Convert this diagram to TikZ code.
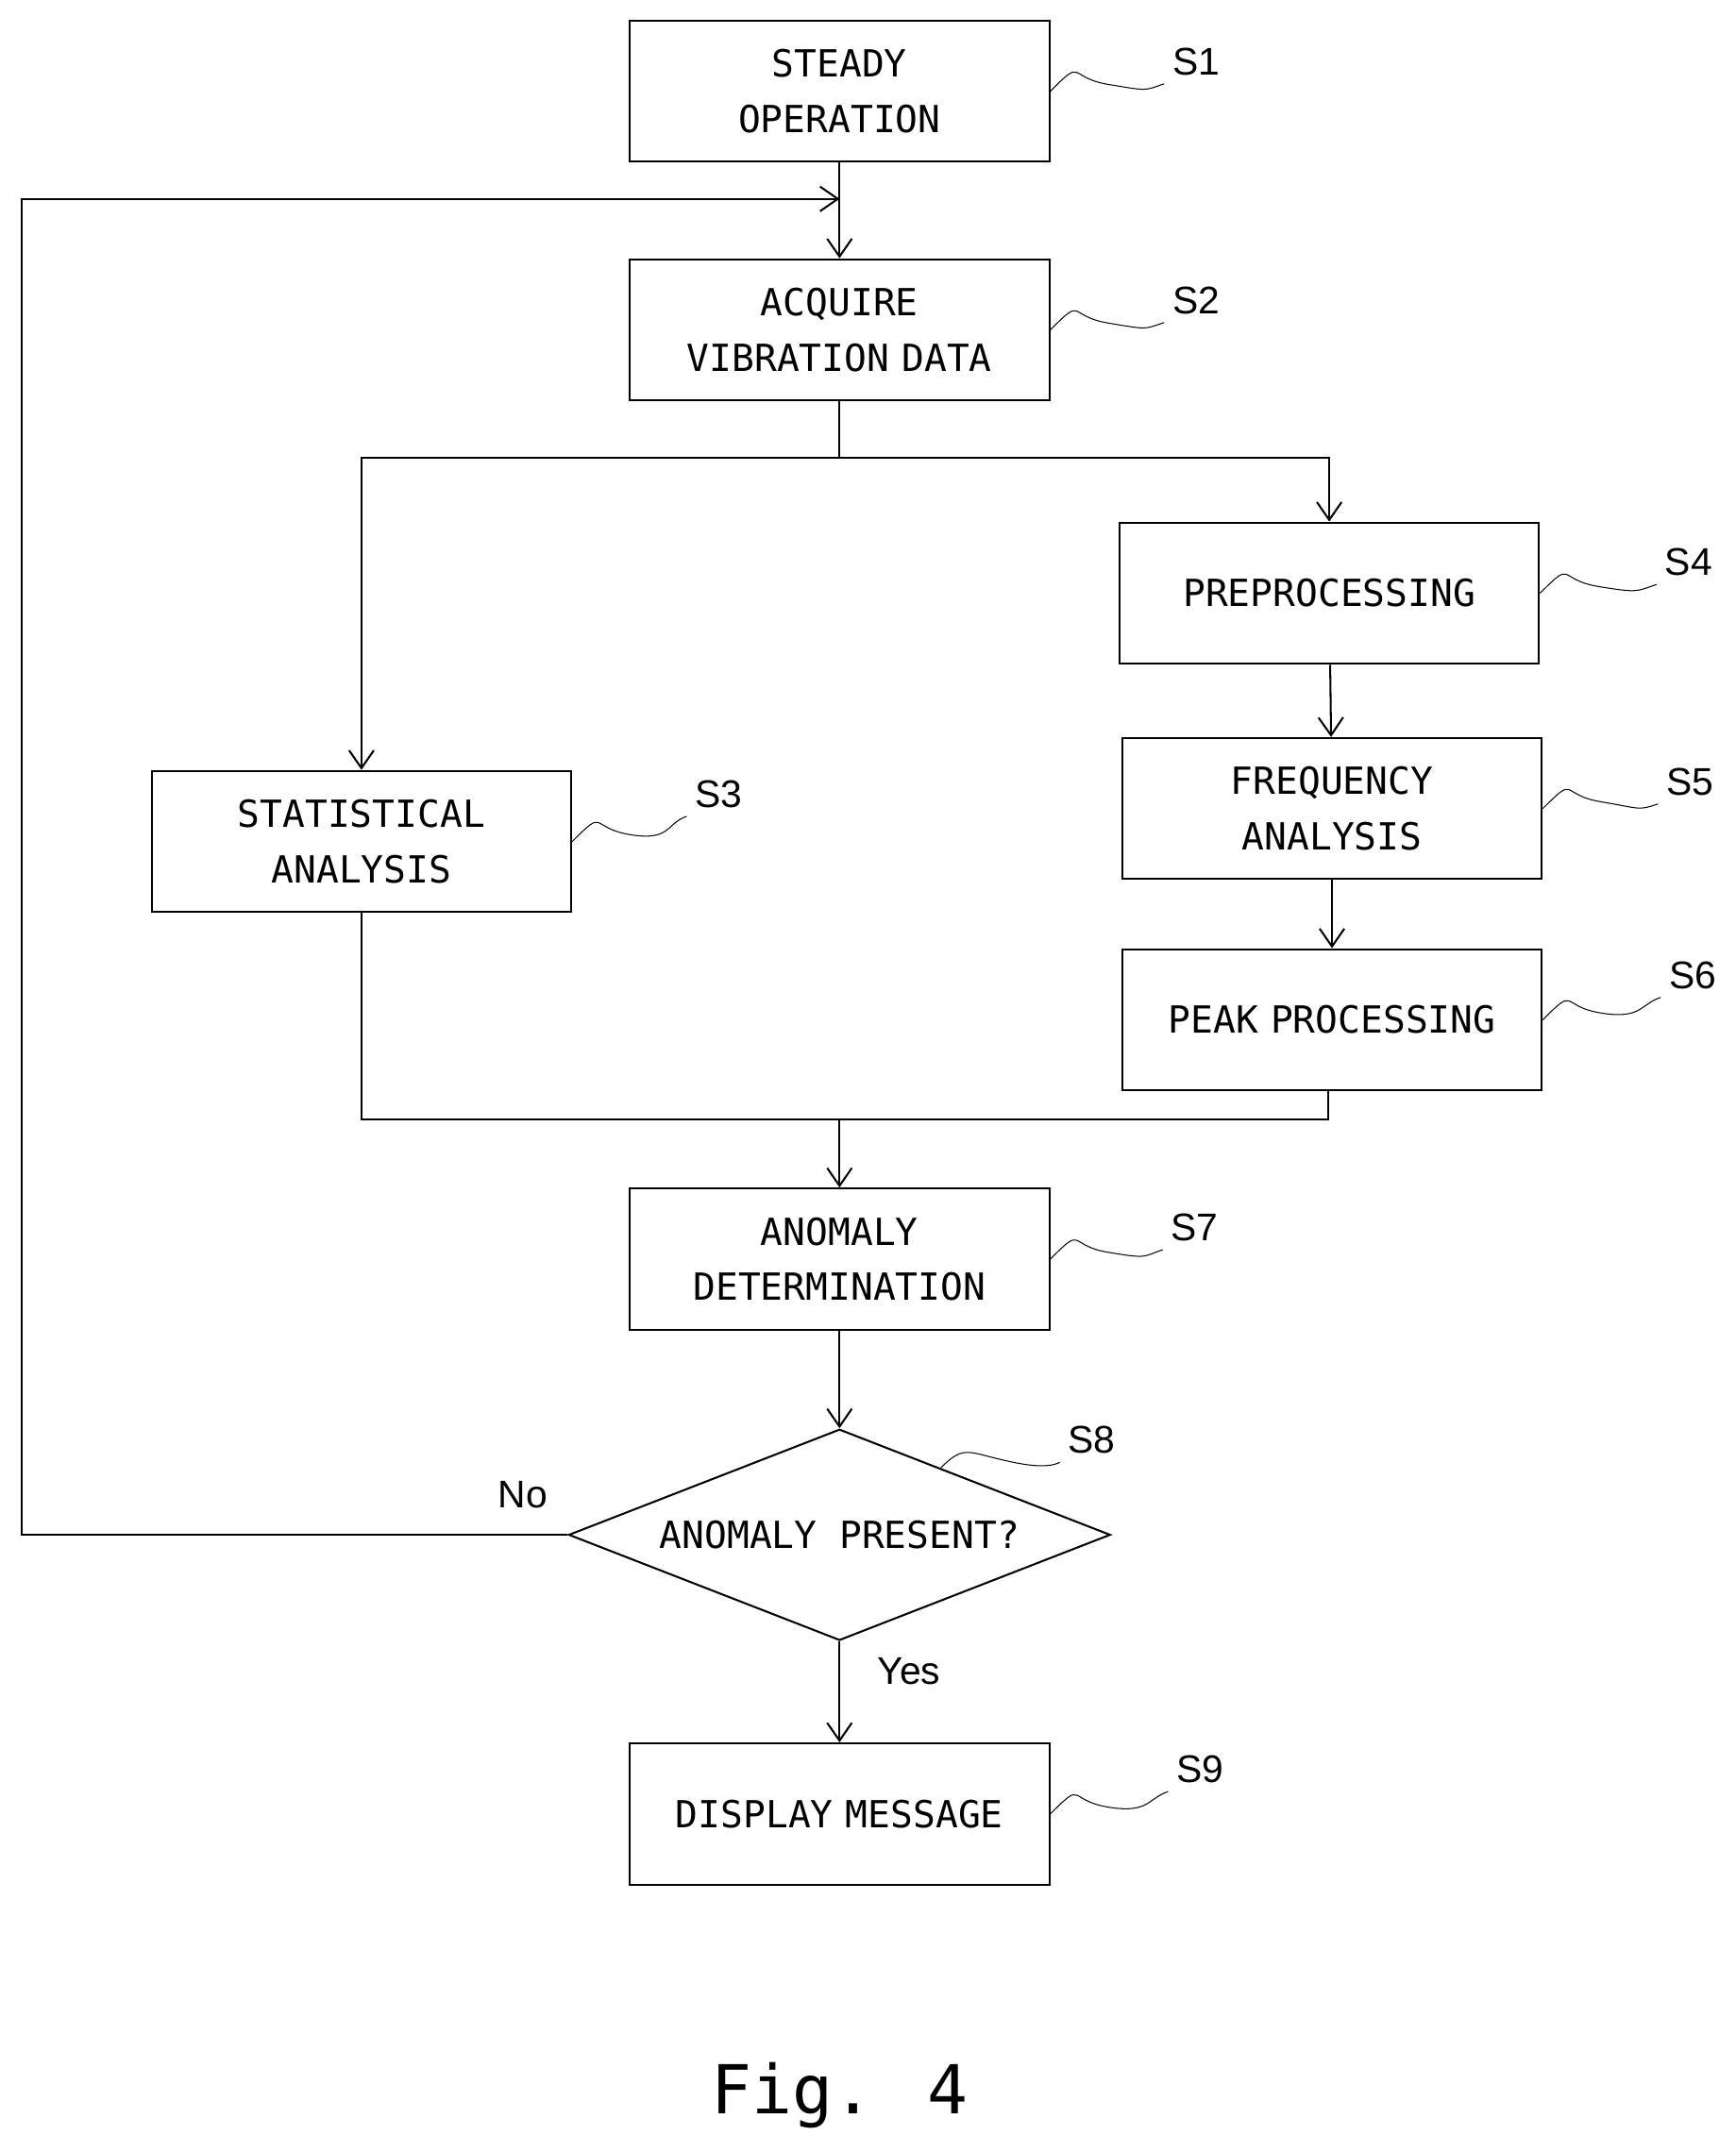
\documentclass[tikz,border=0pt]{standalone}
\usepackage{fontspec}
\setmainfont{DejaVu Sans Mono}
\newfontfamily\labelfont{Liberation Sans}
\usetikzlibrary{positioning,shapes.geometric,arrows.meta}
\begin{document}
\begin{tikzpicture}[x=0.02cm,y=-0.02cm]
	% Styles
	\tikzstyle{steg}	= [rectangle, draw, thick, text width=5.6cm, align=center, minimum width=6.12cm, minimum height=2.06cm, font=\fontsize{15.5}{23}\selectfont, inner sep=0pt]
	\tikzstyle{valg}	= [diamond, draw, thick, aspect=2.56, minimum width=7.9cm, minimum height=3.08cm, inner sep=0pt, font=\fontsize{15.5}{23}\selectfont]
	\tikzstyle{pil}		= [thick, -{Straight Barb[length=2.6mm,width=3.6mm]}]
	\tikzstyle{merke}	= [font=\labelfont\fontsize{16}{19}\selectfont]
	\tikzstyle{boelge}	= [thin]

	\useasboundingbox (0,0) rectangle (1265,1569);

	% Boksene
	\node[steg]	(steady)	at (612,66.5)	{STEADY\\OPERATION};
	\node[steg]	(acquire)	at (612,240.5)	{ACQUIRE\\VIBRATION DATA};
	\node[steg]	(stat)		at (263.5,613.5)	{STATISTICAL\\ANALYSIS};
	\node[steg]	(prep)		at (969,432.5)	{PREPROCESSING};
	\node[steg]	(freq)		at (971,589.5)	{FREQUENCY\\ANALYSIS};
	\node[steg]	(peak)		at (971,743.5)	{PEAK PROCESSING};
	\node[steg]	(anomaly)	at (612,918)	{ANOMALY\\DETERMINATION};
	\node[valg]	(present)	at (612,1119)	{ANOMALY PRESENT?};
	\node[steg]	(display)	at (612,1322.5)	{DISPLAY MESSAGE};

	% Hjelpepunkter
	\coordinate (split)	at (612,334);
	\coordinate (merge)	at (612,816);
	\coordinate (retur)	at (612,145);

	% Piler
	\draw[pil] (steady) -- (acquire);
	\draw[thick] (acquire) -- (split);
	\draw[pil] (split) -| (stat);
	\draw[pil] (split) -| (prep);
	\draw[pil] (prep) -- (freq);
	\draw[pil] (freq) -- (peak);
	\draw[thick] (stat) |- (merge);
	\draw[thick] (peak.south -| 968,0) |- (merge);
	\draw[pil] (merge) -- (anomaly);
	\draw[pil] (anomaly) -- (present);
	\draw[pil] (present) -- node[pos=0.3, right=12pt, merke] {Yes} (display);
	\draw[pil] (present.west) -- (16,1119) |- (retur);
	\node[merke] (nei) at (381,1090) {No};

	% Stegnummer med boelgelinjer
	\foreach \navn/\x/\y/\tekst in {steady/872/45/S1, acquire/872/219/S2, stat/524/579/S3, prep/1231/410/S4, freq/1232/570/S5, peak/1234/711/S6, anomaly/871/895/S7, display/875/1290/S9} {
		\node[merke] (lab\tekst) at (\x,\y) {\tekst};
		\draw[boelge] (\navn.east) .. controls +(25,-25) and +(-30,-5) .. ++(42,-5) .. controls +(30,5) and +(-15,5) .. (lab\tekst.south west);
	}
	\node[merke] (labS8) at (796,1050) {S8};
	\draw[boelge] (686,1070) .. controls +(15,-15) and +(-20,-5) .. (725,1063) .. controls +(20,5) and +(-10,5) .. (labS8.south west);

	% Figurtekst
	\node (fig) at (612,1528) {\fontsize{28}{34}\selectfont Fig. 4};
\end{tikzpicture}
\end{document}
